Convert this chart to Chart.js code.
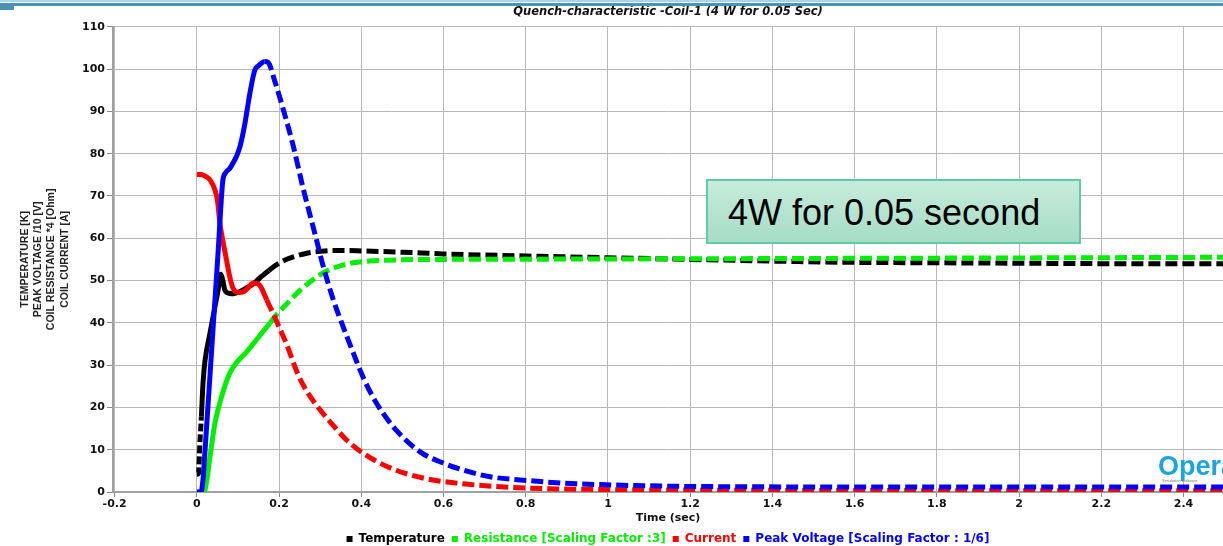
<!DOCTYPE html>
<html>
<head>
<meta charset="utf-8">
<script src="https://cdn.jsdelivr.net/npm/chart.js@4.4.0/dist/chart.umd.min.js"></script>
<style>
  body { margin: 0; background: #fff; overflow: hidden; }
  #wrap { position: relative; width: 1223px; height: 546px; overflow: hidden; }
  #c { position: absolute; left: 0; top: 0; }
  .bar1 { position: absolute; left: 0; top: 0; width: 1223px; height: 2px; background: #a8d4ec; }
  .bar2 { position: absolute; left: 0; top: 3px; width: 1223px; height: 3px; background: #4a92b8; }
  .bar3 { position: absolute; left: 0; top: 6px; width: 14px; height: 4px; background: #4a92b8; }
  #note {
    position: absolute; left: 706px; top: 179px; width: 351px; height: 61px;
    border: 2px solid #62c9a8;
    background: linear-gradient(#c6ecdc, #a6dcc6);
    font-family: "Liberation Sans", Arial, sans-serif; font-size: 36px; color: #000;
    line-height: 63px; padding-left: 20px; box-sizing: content-box;
  }
  #logo {
    position: absolute; left: 1158px; top: 451px;
    font-family: "Liberation Sans", Arial, sans-serif; font-weight: bold; font-size: 27px;
    color: #1ca3e3; white-space: nowrap;
  }
  #logo small { display: block; font-size: 4px; color: #777; font-weight: normal; margin: -4px 0 0 4px; }
</style>
</head>
<body>
<div id="wrap">
  <canvas id="c" width="1223" height="546"></canvas>
  <div class="bar1"></div><div class="bar2"></div><div class="bar3"></div>
  <div id="note">4W for 0.05 second</div>
  <div id="logo">Opera<small>Simulation Software</small></div>
</div>
<script>
// tick values
const xTicks = [-0.2, 0, 0.2, 0.4, 0.6, 0.8, 1, 1.2, 1.4, 1.6, 1.8, 2, 2.2, 2.4];
const yTicks = [0, 10, 20, 30, 40, 50, 60, 70, 80, 90, 100, 110];

// Temperature [K]
const tempX = [0, 0.004, 0.007, 0.011, 0.015, 0.02, 0.032, 0.044, 0.052, 0.058, 0.062, 0.068, 0.078, 0.09, 0.105, 0.12, 0.137, 0.153, 0.175, 0.2, 0.22, 0.245, 0.27, 0.3, 0.33, 0.37, 0.4, 0.5, 0.6, 0.8, 1.0, 1.2, 1.4, 1.6, 1.8, 2.0, 2.2, 2.5];
const tempY = [4.2, 4.4, 11, 17.8, 25.8, 31.2, 37.6, 43.8, 48, 51.5, 50.5, 47.8, 47, 46.9, 47.4, 48.2, 49.2, 50.6, 52.4, 54.1, 55.1, 55.9, 56.5, 56.9, 57.1, 57.1, 57, 56.7, 56.3, 55.8, 55.4, 55, 54.6, 54.3, 54.2, 54.1, 54, 54];

// Resistance (scaling factor 3)
const resX = [0, 0.018, 0.022, 0.032, 0.044, 0.06, 0.08, 0.1, 0.12, 0.145, 0.178, 0.2, 0.226, 0.25, 0.28, 0.307, 0.34, 0.38, 0.42, 0.5, 0.6, 0.8, 1.0, 1.2, 1.6, 2.0, 2.5];
const resY = [0, 0, 1.5, 8.4, 16.3, 22.5, 28.1, 31, 33, 36, 40, 42.6, 45.2, 47.6, 50, 51.8, 53.2, 54.2, 54.6, 54.9, 55, 55.05, 55.1, 55.15, 55.25, 55.35, 55.5];

// Current [A]
const curX = [0, 0.01, 0.02, 0.032, 0.044, 0.05, 0.056, 0.064, 0.072, 0.08, 0.088, 0.096, 0.104, 0.115, 0.125, 0.137, 0.147, 0.155, 0.17, 0.185, 0.2, 0.218, 0.246, 0.27, 0.3, 0.324, 0.364, 0.404, 0.47, 0.55, 0.632, 0.729, 0.81, 0.97, 1.2, 1.6, 2.0, 2.5];
const curY = [75.1, 75.1, 74.7, 73.8, 71.4, 69, 63.6, 59, 54.9, 50.9, 48.2, 47.3, 47.2, 47.4, 48.3, 49.4, 49.3, 48.6, 45.4, 42.3, 39, 35, 27.8, 23.4, 19.4, 16.6, 12.3, 9.2, 5.7, 3.3, 2.1, 1.3, 0.9, 0.6, 0.45, 0.35, 0.3, 0.3];

// Peak voltage (scaling factor 1/6)
const voltX = [0, 0.01, 0.015, 0.02, 0.028, 0.036, 0.044, 0.052, 0.058, 0.063, 0.07, 0.08, 0.088, 0.097, 0.105, 0.117, 0.129, 0.141, 0.15, 0.157, 0.165, 0.173, 0.19, 0.21, 0.234, 0.258, 0.29, 0.307, 0.33, 0.36, 0.38, 0.405, 0.437, 0.486, 0.543, 0.6, 0.648, 0.713, 0.794, 0.891, 0.997, 1.216, 1.6, 2.0, 2.5];
const voltY = [0, 0, 3, 10, 21.8, 33.6, 45.4, 57.2, 67, 73.5, 75.5, 76.5, 77.8, 79.5, 81.7, 87.2, 94.3, 99.8, 100.8, 101.4, 101.8, 101.6, 97, 90.5, 82, 72, 60, 53.5, 46, 38, 33, 27, 21, 14.5, 9.5, 6.8, 5.2, 3.6, 2.8, 2.1, 1.7, 1.3, 1.2, 1.2, 1.2];

const seriesNames = ['Temperature', 'Resistance [Scaling Factor :3]', 'Current', 'Peak Voltage [Scaling Factor : 1/6]'];
const seriesColors = ['#000000', '#00ee00', '#ff0000', '#0000ff'];

function pts(xs, ys) {
    return xs.map((x, i) => ({ x: x, y: ys[i] }));
}

// lines are solid during the heat pulse, dashed afterwards
const dashAfter = 0.16;
function dashed(ctx) {
    if (ctx.p0.parsed.x >= dashAfter) return [12, 5];
    return undefined;
}

const allData = [pts(tempX, tempY), pts(resX, resY), pts(curX, curY), pts(voltX, voltY)];
const drawOrder = [4, 3, 2, 1];

const datasets = allData.map((d, i) => ({
    label: seriesNames[i],
    data: d,
    borderColor: seriesColors[i],
    backgroundColor: seriesColors[i],
    borderWidth: 5,
    pointRadius: 0,
    fill: false,
    cubicInterpolationMode: 'monotone',
    order: drawOrder[i],
    segment: {
        borderDash: i === 0
            ? (ctx => (ctx.p1.parsed.x <= 0.011 ? [8, 3] : dashed(ctx)))
            : dashed
    }
}));

const tickFont = { family: 'DejaVu Sans', weight: 'bold', size: 11 };

new Chart(document.getElementById('c'), {
    type: 'line',
    data: { datasets: datasets },
    options: {
        responsive: false,
        animation: false,
        layout: { padding: { left: 0, right: 0, top: 0, bottom: 0 } },
        scales: {
            x: {
                type: 'linear',
                min: -0.204,
                max: 2.496,
                afterBuildTicks: s => { s.ticks = xTicks.map(v => ({ value: v })); },
                afterFit: s => { s.height = 34; },
                grid: { color: '#b8b8b8', borderDash: [1, 2], tickColor: '#888', tickLength: 5, tickBorderDash: [] },
                border: { color: '#a0a0a0', width: 2 },
                ticks: { color: '#111', font: tickFont, padding: 1, maxRotation: 0, callback: v => String(v) },
                title: { display: true, text: 'Time (sec)', color: '#111', font: tickFont, padding: { top: 2, bottom: 1 } }
            },
            y: {
                min: 0,
                max: 110,
                afterBuildTicks: s => { s.ticks = yTicks.map(v => ({ value: v })); },
                afterFit: s => { s.width = 113; },
                grid: { color: '#b8b8b8', borderDash: [1, 2], tickColor: '#888', tickLength: 6, tickBorderDash: [] },
                border: { color: '#a0a0a0', width: 2 },
                ticks: { color: '#111', font: tickFont, padding: 2 },
                title: {
                    display: true,
                    text: ['TEMPERATURE [K]', 'PEAK VOLTAGE /10 [V]', 'COIL RESISTANCE *4 [Ohm]', 'COIL CURRENT [A]'],
                    color: '#222',
                    font: { family: 'Liberation Sans', weight: 'bold', size: 10.5, lineHeight: 1.27 },
                    padding: { top: 18, bottom: 0 }
                }
            }
        },
        plugins: {
            title: {
                display: true,
                fullSize: false,
                text: 'Quench-characteristic -Coil-1 (4 W for 0.05 Sec)',
                color: '#111',
                font: { family: 'DejaVu Sans', weight: 'bold', style: 'italic', size: 11.5, lineHeight: 1.2 },
                padding: { top: 5, bottom: 8 }
            },
            legend: {
                position: 'bottom',
                fullSize: false,
                maxHeight: 20,
                labels: {
                    usePointStyle: true,
                    boxWidth: 6,
                    boxHeight: 6,
                    padding: 7,
                    font: { family: 'DejaVu Sans', weight: 'bold', size: 12 },
                    generateLabels: chart => chart.data.datasets.map((ds, i) => ({
                        text: ds.label,
                        fillStyle: ds.borderColor,
                        strokeStyle: ds.borderColor,
                        fontColor: ds.borderColor,
                        lineWidth: 0,
                        pointStyle: 'rect',
                        hidden: false,
                        datasetIndex: i
                    }))
                }
            },
            tooltip: { enabled: false }
        }
    }
});
</script>
</body>
</html>
